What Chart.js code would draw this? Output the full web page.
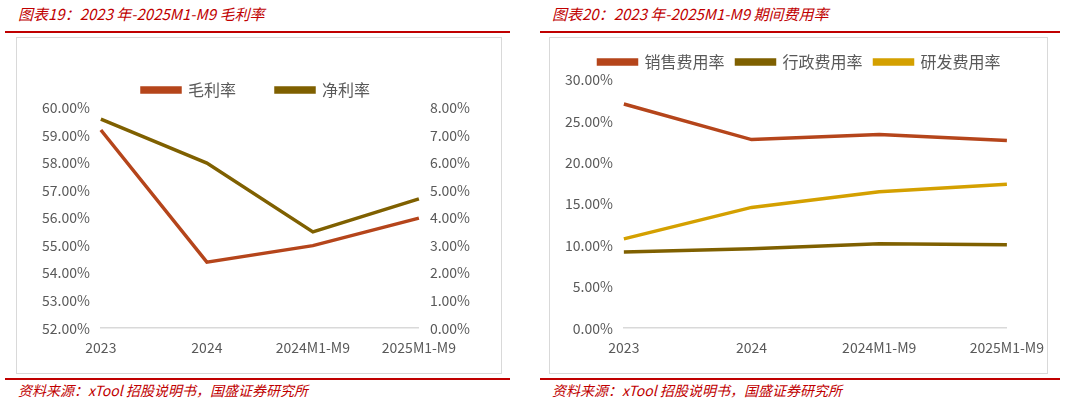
<!DOCTYPE html>
<html><head><meta charset="utf-8">
<script src="https://cdn.jsdelivr.net/npm/chart.js@4"></script>
<style>
body{margin:0;width:1065px;height:404px;background:#fff;position:relative;font-family:"Noto Sans CJK SC",sans-serif;overflow:hidden}
.t{position:absolute;top:3px;color:#c00000;font-style:italic;font-size:15px}
.f{position:absolute;top:380px;color:#c00000;font-style:italic;font-size:14px}
.hl{position:absolute;height:2px;background:#c00000}
.box{position:absolute;border:1px solid #d9d9d9;top:37px;height:335px}
canvas{display:block}
</style></head><body>
<div class="t" style="left:18px">图表19：2023 年-2025M1-M9 毛利率</div>
<div class="t" style="left:552px">图表20：2023 年-2025M1-M9 期间费用率</div>
<div class="hl" style="left:5px;width:505px;top:31px"></div>
<div class="hl" style="left:540px;width:520px;top:31px"></div>
<div class="hl" style="left:5px;width:505px;top:378px"></div>
<div class="hl" style="left:540px;width:520px;top:378px"></div>
<div class="f" style="left:18px">资料来源：xTool 招股说明书，国盛证券研究所</div>
<div class="f" style="left:552px">资料来源：xTool 招股说明书，国盛证券研究所</div>
<div class="box" style="left:16px;width:484px"><canvas id="c1" width="484" height="335"></canvas></div>
<div class="box" style="left:549px;width:497px"><canvas id="c2" width="497" height="335"></canvas></div>
<script>
const categories=["2023","2024","2024M1-M9","2025M1-M9"];
const grossMargin=[59.2,54.4,55.0,56.0];
const netMargin=[7.6,6.0,3.5,4.7];
const salesRate=[27.1,22.8,23.4,22.7];
const adminRate=[9.2,9.6,10.2,10.1];
const rdRate=[10.8,14.6,16.5,17.4];
const font={family:"'Noto Sans CJK SC', sans-serif",size:14};
const tickColor='#595959';
function ds(label,data,color,axis){return {label,data,borderColor:color,backgroundColor:color,borderWidth:3.5,pointRadius:0,tension:0,yAxisID:axis};}
const legend={display:true,position:'top',labels:{boxWidth:38,boxHeight:4,color:tickColor,font:{...font,size:16},padding:22}};
const xs={grid:{display:false},border:{color:'#d9d9d9',width:1.5},ticks:{color:tickColor,font,maxRotation:0,autoSkip:false}};
new Chart(document.getElementById('c1'),{type:'line',
 data:{labels:categories,datasets:[ds('毛利率',grossMargin,'#b5451b','y'),ds('净利率',netMargin,'#7f6000','y1')]},
 options:{responsive:false,animation:false,devicePixelRatio:1,layout:{padding:{left:22,right:28,top:4,bottom:14}},
  plugins:{legend:{...legend,labels:{...legend.labels,padding:40}},tooltip:{enabled:false}},
  scales:{x:xs,
   y:{position:'left',min:52,max:60,grid:{display:false},border:{display:false},ticks:{stepSize:1,color:tickColor,font,callback:v=>v.toFixed(2)+'%'}},
   y1:{position:'right',min:0,max:8,grid:{display:false},border:{display:false},ticks:{stepSize:1,color:tickColor,font,callback:v=>v.toFixed(2)+'%'}}}}});
new Chart(document.getElementById('c2'),{type:'line',
 data:{labels:categories,datasets:[ds('销售费用率',salesRate,'#b5451b','y'),ds('行政费用率',adminRate,'#7f6000','y'),ds('研发费用率',rdRate,'#d4a000','y')]},
 options:{responsive:false,animation:false,devicePixelRatio:1,layout:{padding:{left:12,right:10,top:4,bottom:14}},
  plugins:{legend:{...legend,labels:{...legend.labels,padding:12}},tooltip:{enabled:false}},
  scales:{x:xs,
   y:{min:0,max:30,grid:{display:false},border:{display:false},ticks:{stepSize:5,color:tickColor,font,callback:v=>v.toFixed(2)+'%'}}}}});
</script>
</body></html>
